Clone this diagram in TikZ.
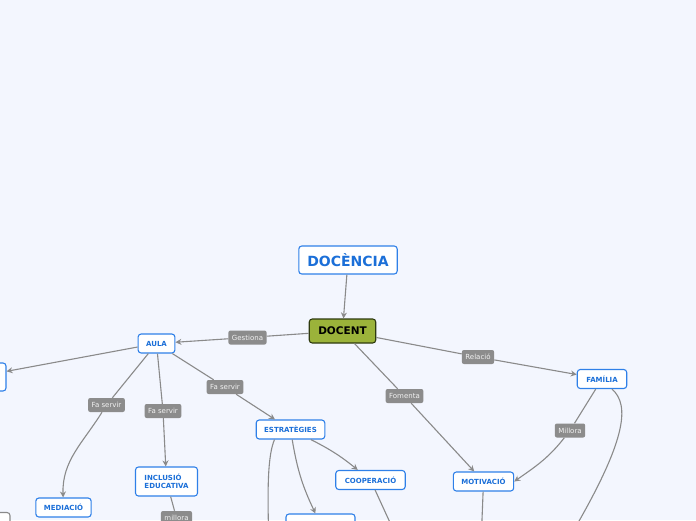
\documentclass[tikz,border=0pt]{standalone}
\usepackage{fontspec}
\setmainfont{DejaVu Sans}
\usetikzlibrary{arrows.meta}

\definecolor{bgblue}{HTML}{F3F6FE}
\definecolor{nodeblue}{HTML}{2F80E8}
\definecolor{textblue}{HTML}{1B6FD8}
\definecolor{olive}{HTML}{9BB33A}
\definecolor{olivedark}{HTML}{2E3A0E}
\definecolor{edgegray}{HTML}{8A8A8A}
\definecolor{lblgray}{HTML}{8C8C8C}

\begin{document}
\begin{tikzpicture}[
  x=1pt, y=-1pt,
  box/.style={draw=nodeblue, line width=1.1pt, rounded corners=3pt, fill=white, text=textblue, font=\fontsize{7}{8.5}\selectfont\bfseries, minimum height=19pt, inner xsep=8pt, inner ysep=2pt},
  root/.style={box, font=\fontsize{14}{16}\selectfont\bfseries, minimum height=28pt, inner xsep=8.5pt},
  main/.style={box, draw=olivedark, fill=olive, text=black, font=\fontsize{10.5}{12}\selectfont\bfseries, minimum height=24pt, inner xsep=9pt},
  lbl/.style={fill=lblgray, rounded corners=2pt, text=white!95!black, font=\fontsize{7}{8}\selectfont, minimum height=14pt, inner xsep=3.5pt, inner ysep=1pt},
  conn/.style={draw=edgegray, line width=1.1pt, -{Stealth[length=6pt,width=6pt]}},
  line/.style={draw=edgegray, line width=1.1pt},
]
\fill[bgblue] (0,0) rectangle (696,520);
\clip (0,0) rectangle (696,520);

% nodes
\node[root] (docencia) at (348,260) {DOCÈNCIA};
\node[main] (docent) at (342.5,331) {DOCENT};
\node[box] (aula) at (156.5,343.5) {AULA};
\node[box, minimum width=60pt, minimum height=28pt] (aulaleft) at (-24,377) {};
\node[box] (estrat) at (290.5,429.5) {ESTRATÈGIES};
\node[box, inner xsep=9pt] (cooper) at (370.5,480) {COOPERACIÓ};
\node[box] (motiv) at (483.5,481.5) {MOTIVACIÓ};
\node[box, inner xsep=9pt] (familia) at (602,379) {FAMÍLIA};
\node[box, align=left, minimum height=29pt, inner xsep=9pt] (inclusio) at (166.5,481.5) {INCLUSIÓ\\EDUCATIVA};
\node[box] (mediacio) at (63.5,507.5) {MEDIACIÓ};
\node[box, minimum width=69pt, minimum height=20pt] (estratbot) at (320.5,524) {};
\node[box, draw=edgegray, minimum width=40pt] (medleft) at (-10,522) {};

% labels
\node[lbl] (gest) at (247.5,337.5) {Gestiona};
\node[lbl] (rel) at (478,357) {Relació};
\node[lbl] (fom) at (404.5,396) {Fomenta};
\node[lbl] (fsA) at (106.5,405) {Fa servir};
\node[lbl] (fsB) at (163,411) {Fa servir};
\node[lbl] (fsC) at (225,387) {Fa servir};
\node[lbl] (mill) at (570,430.5) {Millora};
\node[lbl] (millb) at (176.5,518) {millora};

% free ends below the picture
\coordinate (estratout) at (269,545);
\coordinate (cooperout) at (398,540);
\coordinate (motivout) at (481,545);
\coordinate (familiaout) at (565,545);

% connectors
\draw[conn] (docencia) -- (docent);
\draw[conn] (docent) -- (gest) -- (aula);
\draw[conn] (docent) -- (rel) -- (familia);
\draw[conn] (docent) -- (fom) -- (motiv);
\draw[conn] (aula) -- (aulaleft);
\draw[conn] (aula) -- (fsA) to[out=-122, in=92] (mediacio);
\draw[conn] (aula) -- (fsB) -- (inclusio);
\draw[conn] (aula) -- (fsC) -- (estrat);
\draw[conn] (estrat) to[bend left=6] (cooper);
\draw[conn] (estrat) to[bend right=8] (estratbot);
\draw[line] ([xshift=-16pt]estrat.south) .. controls (268,455) and (267,485) .. (estratout);
\draw[line] (cooper) -- (cooperout);
\draw[line] (inclusio) -- (millb);
\draw[conn] (familia) -- (mill) to[out=-128, in=35] (motiv.east);
\draw[line] ([xshift=10pt]familia.south) .. controls (630,405) and (628,440) .. (familiaout);
\draw[line] (motiv) -- (motivout);
\end{tikzpicture}
\end{document}
